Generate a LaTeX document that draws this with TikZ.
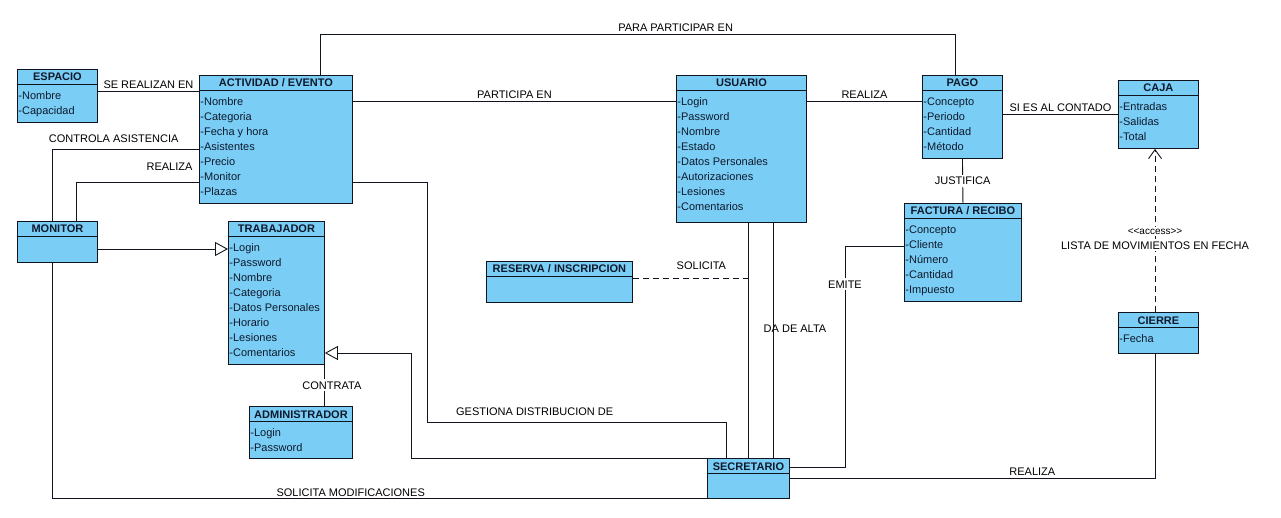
\documentclass[tikz,border=0pt]{standalone}
\usepackage{fontspec}
\setmainfont{Liberation Sans}
\usetikzlibrary{positioning, arrows.meta}
\definecolor{umlfill}{RGB}{122,206,245}
\definecolor{umlline}{RGB}{15,20,30}
\definecolor{umltext}{RGB}{15,25,45}
\newcommand{\umlclass}[7]{%
  \node[classbox, minimum width=#4pt, minimum height=#5pt] (#1) at (#2,#3) {};
  \draw ([yshift=-15.5pt]#1.north west) -- ([yshift=-15.5pt]#1.north east);
  \node[classtitle] (#1t) at ([yshift=-8pt]#1.north) {#6};
  \node[classattr] (#1a) at ([yshift=-21pt]#1.north west) {\rule{0pt}{9pt}#7};
}

\begin{document}
\begin{tikzpicture}[x=1pt, y=-1pt, line width=0.9pt, draw=umlline,
  classbox/.style={draw=umlline, fill=umlfill, anchor=north west, inner sep=0pt},
  classtitle/.style={font=\fontsize{11}{13}\selectfont\bfseries, text=umltext, inner sep=0pt, text height=8pt, text depth=0pt},
  classattr/.style={font=\fontsize{11}{15}\selectfont, text=umltext, anchor=north west, align=left, inner xsep=1pt, inner ysep=0pt},
  rel/.style={font=\fontsize{11}{13}\selectfont, inner sep=2pt, text height=8pt, text depth=0pt},
  gen/.style={-{Triangle[open, length=13pt, width=14pt]}},
  dep/.style={dash pattern=on 6pt off 4pt, -{Straight Barb[length=9pt, width=13pt]}}]
\path[fill=white, use as bounding box] (0,0) rectangle (1281,518);

% classes
\umlclass{espacio}{17}{69}{80}{53}{ESPACIO}{-Nombre\\-Capacidad}
\umlclass{actividad}{199}{75}{153}{128}{ACTIVIDAD / EVENTO}{-Nombre\\-Categoria\\-Fecha y hora\\-Asistentes\\-Precio\\-Monitor\\-Plazas}
\umlclass{usuario}{676}{75}{130}{147}{USUARIO}{-Login\\-Password\\-Nombre\\-Estado\\-Datos Personales\\-Autorizaciones\\-Lesiones\\-Comentarios}
\umlclass{pago}{922}{75}{80}{83}{PAGO}{-Concepto\\-Periodo\\-Cantidad\\-Método}
\umlclass{caja}{1118}{80}{80}{68}{CAJA}{-Entradas\\-Salidas\\-Total}
\umlclass{factura}{904}{203}{117}{98}{FACTURA / RECIBO}{-Concepto\\-Cliente\\-Número\\-Cantidad\\-Impuesto}
\umlclass{monitor}{17}{221}{80}{41}{MONITOR}{}
\umlclass{trabajador}{228}{221}{96}{143}{TRABAJADOR}{-Login\\-Password\\-Nombre\\-Categoria\\-Datos Personales\\-Horario\\-Lesiones\\-Comentarios}
\umlclass{reserva}{486}{261}{146}{41}{RESERVA / INSCRIPCION}{}
\umlclass{admin}{249}{406}{103}{52}{ADMINISTRADOR}{-Login\\-Password}
\umlclass{cierre}{1118}{312}{80}{41}{CIERRE}{-Fecha}
\umlclass{secretario}{707}{458}{82}{40}{SECRETARIO}{}

% associations
\draw (espacio.east |- 0,91) -- node[rel, above] (l1) {SE REALIZAN EN} (actividad.west |- 0,91);
\draw (actividad.east |- 0,101) -- node[rel, above] (l2) {PARTICIPA EN} (usuario.west |- 0,101);
\draw (actividad.north -| 320,0) |- node[rel, above, pos=0.78] (l3) {PARA PARTICIPAR EN} (955,34) -- (pago.north -| 955,0);
\draw (usuario.east |- 0,101) -- node[rel, above] (l4) {REALIZA} (pago.west |- 0,101);
\draw (pago.east |- 0,114) -- node[rel, above] (l5) {SI ES AL CONTADO} (caja.west |- 0,114);
\draw (pago.south) -- node[rel, fill=white] (l6) {JUSTIFICA} (factura.north);
\draw (monitor.north -| 52,0) |- node[rel, above=4pt, pos=0.71] (l7) {CONTROLA ASISTENCIA} (actividad.west |- 0,149);
\draw (monitor.north -| 76,0) |- node[rel, above=9pt, pos=0.88] (l8) {REALIZA} (actividad.west |- 0,182);
\draw[gen] (monitor.east |- 0,249) -- (trabajador.west |- 0,249);
\draw (trabajador.south east) -- node[rel, fill=white, xshift=7pt] (l9) {CONTRATA} (trabajador.south east |- admin.north);
\draw[gen] (secretario.north west) -| (411,353) -- (trabajador.east |- 0,353);
\draw (actividad.east |- 0,182) -| (427,422) -| node[rel, above=4pt, pos=0.18] (l10) {GESTIONA DISTRIBUCION DE} (secretario.north -| 726,0);
\draw (usuario.south -| 748,0) -- coordinate[pos=0.237] (sol) (secretario.north -| 748,0);
\draw (usuario.south -| 773,0) -- node[rel, pos=0.45, xshift=22pt] (l11) {DA DE ALTA} (secretario.north -| 773,0);
\draw[dash pattern=on 6pt off 4pt] (reserva.east |- sol) -- node[rel, above=7pt, pos=0.595] (l12) {SOLICITA} (sol);
\draw (factura.west |- 0,246) -| node[rel, fill=white, pos=0.586] (l13) {EMITE} (845,467) -- (secretario.east |- 0,467);
\draw (secretario.east |- 0,478) -| node[rel, above, pos=0.332] (l14) {REALIZA} (cierre.south -| 1155,0);
\draw[dep] (cierre.north -| 1155,0) -- node[rel, fill=white, pos=0.41] (l15) {LISTA DE MOVIMIENTOS EN FECHA}
  node[font=\fontsize{10}{12}\selectfont, fill=white, inner sep=1pt, pos=0.495] (l16) {<{}<access>{}>} (caja.south -| 1155,0);
\draw (monitor.south -| 52,0) |- node[rel, above, pos=0.728] (l17) {SOLICITA MODIFICACIONES} (secretario.south west);
\end{tikzpicture}
\end{document}
